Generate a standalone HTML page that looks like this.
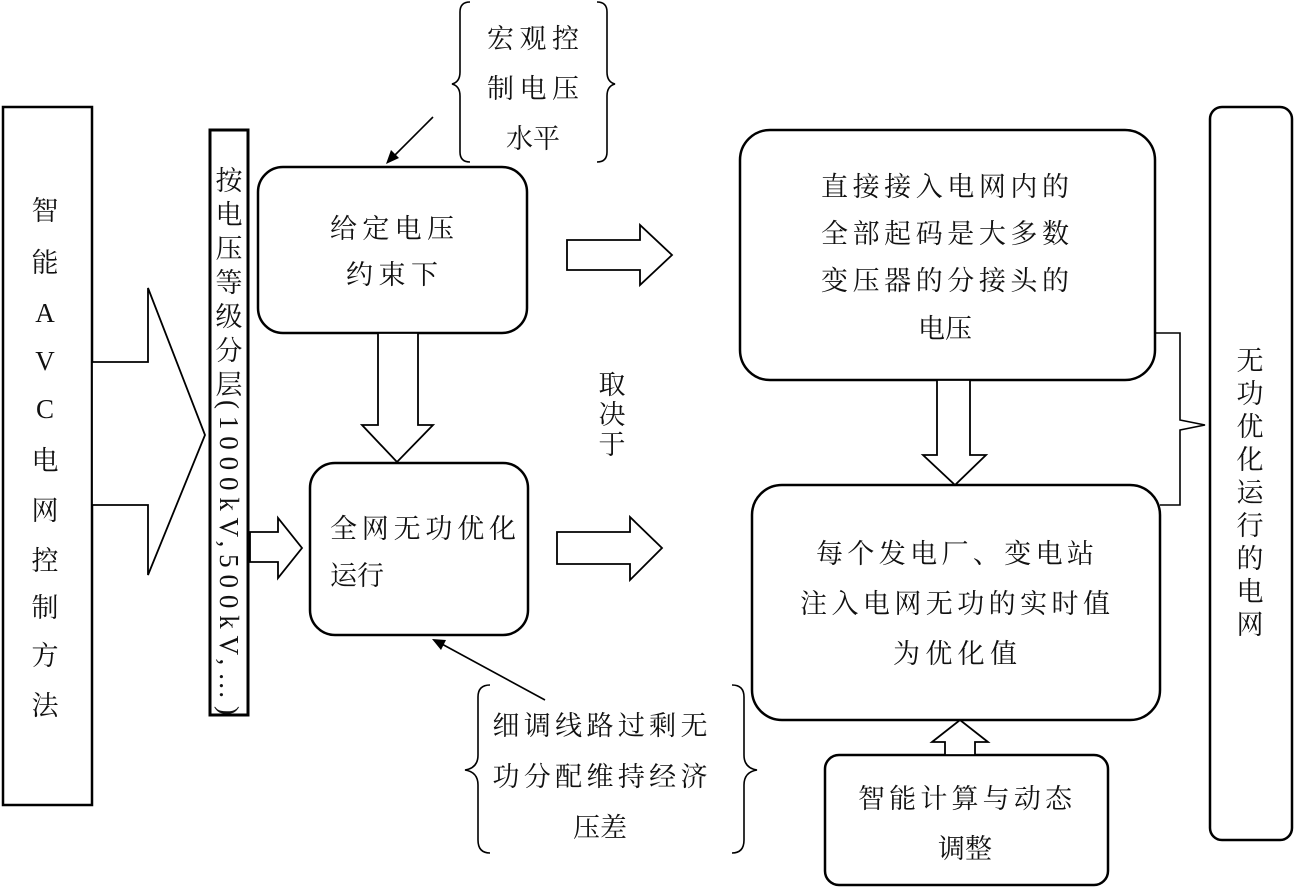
<!DOCTYPE html>
<html><head><meta charset="utf-8"><style>
html,body{margin:0;padding:0;background:#fff}
svg{display:block}
text{font-family:"Liberation Serif","Noto Serif CJK SC","Noto Sans CJK SC",serif;font-size:27px;fill:#111}
</style></head><body>
<svg width="1295" height="889" viewBox="0 0 1295 889" xmlns="http://www.w3.org/2000/svg">
<g fill="none" stroke="#000" stroke-width="2.5">
<rect x="3" y="107" width="89" height="698"/>
<rect x="210" y="130" width="38" height="585" stroke-width="3"/>
<rect x="258" y="167" width="269" height="166" rx="25"/>
<rect x="310" y="463" width="218" height="172" rx="25"/>
<rect x="740" y="130" width="415" height="250" rx="30"/>
<rect x="752" y="485" width="408" height="235" rx="30"/>
<rect x="825" y="755" width="283" height="130" rx="14"/>
<rect x="1210" y="107" width="82" height="733" rx="12"/>
</g>
<g fill="#fff" stroke="#000" stroke-width="1.8">
<polygon points="92,362 148,362 148,288 205,435 148,575 148,505 92,505"/>
<polygon points="250,532 278,532 278,518 302,548 278,578 278,562 250,562"/>
<polygon points="378,333 418,333 418,425 433,425 397,462 362,425 378,425"/>
<polygon points="567,240 640,240 640,225 672,255 640,285 640,270 567,270"/>
<polygon points="557,532 630,532 630,517 662,548 630,580 630,564 557,564"/>
<polygon points="937,380 970,380 970,455 986,455 955,485 923,455 937,455"/>
<polygon points="945,755 975,755 975,742 988,742 960,720 932,742 945,742"/>
</g>
<g fill="none" stroke="#000" stroke-width="1.6">
<path d="M1155,333 H1180 V420 L1205,425 L1180,430 V505 H1160"/>
<path d="M470,2 Q460,2 460,12 V72 Q460,82 452,84 Q460,86 460,96 V152 Q460,162 470,162"/>
<path d="M597,2 Q607,2 607,12 V72 Q607,82 615,84 Q607,86 607,96 V152 Q607,162 597,162"/>
<path d="M490,685 Q478,685 478,697 V755 Q478,768 465,770 Q478,772 478,785 V840 Q478,853 490,853"/>
<path d="M732,685 Q744,685 744,697 V755 Q744,768 757,770 Q744,772 744,785 V840 Q744,853 732,853"/>
<line x1="433" y1="117" x2="392" y2="158"/>
<line x1="545" y1="700" x2="440" y2="643"/>
</g>
<polygon points="386,164 391,150 399,158" fill="#000"/>
<polygon points="432,639 446,640 441,650" fill="#000"/>
<g text-anchor="middle">
<text x="45" y="220">智</text><text x="45" y="272">能</text><text x="45" y="322">A</text><text x="45" y="370">V</text><text x="45" y="418">C</text><text x="45" y="470">电</text><text x="45" y="520">网</text><text x="45" y="570">控</text><text x="45" y="617">制</text><text x="45" y="665">方</text><text x="45" y="715">法</text>
<text x="533" y="48" textLength="92">宏观控</text>
<text x="533" y="98" textLength="92">制电压</text>
<text x="533" y="148">水平</text>
<text x="392" y="238" textLength="124">给定电压</text>
<text x="392" y="284" textLength="92">约束下</text>
<text x="612" y="394" font-size="25">取</text><text x="612" y="424" font-size="25">决</text><text x="612" y="454" font-size="25">于</text>
<text x="945" y="196" textLength="248">直接接入电网内的</text>
<text x="945" y="243" textLength="248">全部起码是大多数</text>
<text x="945" y="290" textLength="248">变压器的分接头的</text>
<text x="945" y="338">电压</text>
<text x="955" y="563" textLength="278">每个发电厂、变电站</text>
<text x="955" y="613" textLength="310">注入电网无功的实时值</text>
<text x="955" y="663" textLength="124">为优化值</text>
<text x="965" y="808" textLength="214">智能计算与动态</text>
<text x="965" y="858">调整</text>
<text x="600" y="735" textLength="215">细调线路过剩无</text>
<text x="600" y="786" textLength="215">功分配维持经济</text>
<text x="600" y="837">压差</text>
<g font-size="26">
<text x="229" y="190">按</text><text x="229" y="224">电</text><text x="229" y="258">压</text><text x="229" y="292">等</text><text x="229" y="326">级</text><text x="229" y="360">分</text><text x="229" y="394">层</text>
</g>
<g font-size="28">
<text x="1250" y="370">无</text><text x="1250" y="403">功</text><text x="1250" y="436">优</text><text x="1250" y="469">化</text><text x="1250" y="502">运</text><text x="1250" y="535">行</text><text x="1250" y="568">的</text><text x="1250" y="601">电</text><text x="1250" y="634">网</text>
</g>
</g>
<text x="330" y="538" textLength="186">全网无功优化</text>
<text x="330" y="585">运行</text>
<text transform="translate(220,400) rotate(90)" font-size="26" textLength="315">(1000kV,500kV,…)</text>
</svg>
</body></html>
